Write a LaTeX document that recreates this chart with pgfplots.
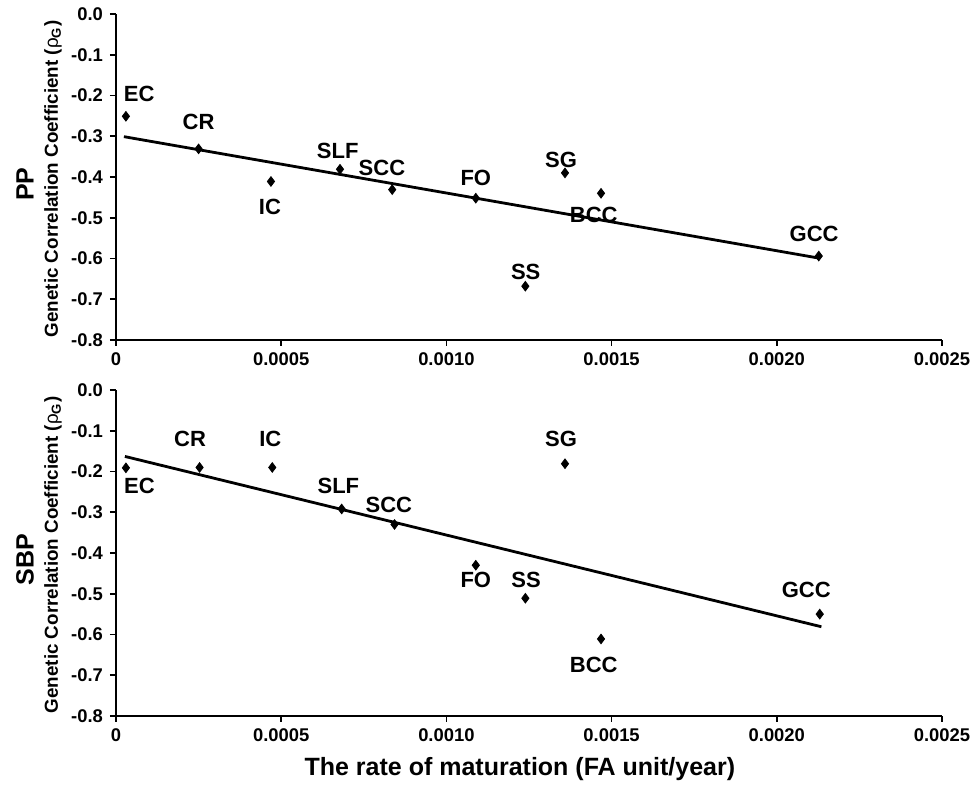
\documentclass[border=0pt]{standalone}
\usepackage{pgfplots}
\pgfplotsset{compat=1.18}
\usepackage{fontspec}
\setmainfont{Liberation Sans}

\pgfplotsset{
  matstyle/.style={
    scale only axis, width=413pt, height=163pt,
    xmin=0, xmax=0.0025, ymin=-0.8, ymax=0,
    axis lines=left, axis line style={-, line width=0.9pt},
    xtick={0,0.0005,0.001,0.0015,0.002,0.0025},
    xticklabels={0,0.0005,0.0010,0.0015,0.0020,0.0025},
    scaled x ticks=false,
    ytick={-0.8,-0.7,-0.6,-0.5,-0.4,-0.3,-0.2,-0.1,0},
    yticklabels={-0.8,-0.7,-0.6,-0.5,-0.4,-0.3,-0.2,-0.1,0.0},
    tick align=outside, major tick length=3pt,
    tick style={black, line width=0.8pt},
    ticklabel style={font=\fontsize{9.2}{10}\selectfont\bfseries},
    ylabel={Genetic Correlation Coefficient ({\mdseries ρ}\textsubscript{G})},
    ylabel style={at={(axis description cs:-0.0763,0.494)}, anchor=center,
      font=\fontsize{9.4}{10}\selectfont\bfseries},
    clip=false,
  },
  pts/.style={only marks, mark=diamond*, mark size=2.4pt, black},
  fit/.style={black, line width=1.4pt, no marks},
}
\tikzset{
  lab/.style={font=\fontsize{11}{12}\selectfont\bfseries, inner sep=0pt},
  big/.style={rotate=90, font=\fontsize{12.5}{13}\selectfont\bfseries},
}

\begin{document}
\begin{tikzpicture}
\path[use as bounding box] (-58pt,-225pt) rectangle (427.5pt,170pt);

% PP panel
\begin{axis}[matstyle, at={(0,0)}, anchor=south west]
\addplot[pts] coordinates {
  (0.000030,-0.251) (0.000250,-0.331) (0.000469,-0.411) (0.000678,-0.381)
  (0.000836,-0.431) (0.001089,-0.452) (0.001359,-0.390) (0.001468,-0.440)
  (0.001239,-0.668) (0.002127,-0.594)
};
\addplot[fit] coordinates {(0.000024,-0.301) (0.002127,-0.599)};
\node[lab] at (axis cs:0.000070,-0.196) {EC};
\node[lab] at (axis cs:0.000250,-0.264) {CR};
\node[lab] at (axis cs:0.000466,-0.474) {IC};
\node[lab] at (axis cs:0.000671,-0.335) {SLF};
\node[lab] at (axis cs:0.000805,-0.378) {SCC};
\node[lab] at (axis cs:0.001089,-0.403) {FO};
\node[lab] at (axis cs:0.001347,-0.357) {SG};
\node[lab] at (axis cs:0.001446,-0.493) {BCC};
\node[lab] at (axis cs:0.001240,-0.632) {SS};
\node[lab] at (axis cs:0.002113,-0.539) {GCC};
\node[big] at (axis description cs:-0.110,0.478) {PP};
\end{axis}

% SBP panel
\begin{axis}[matstyle, at={(0,-188pt)}, anchor=south west,
  xlabel={The rate of maturation (FA unit/year)},
  xlabel style={at={(axis description cs:0.489,0)}, yshift=-26.5pt, anchor=center,
    font=\fontsize{12.5}{13}\selectfont\bfseries}]
\addplot[pts] coordinates {
  (0.000030,-0.191) (0.000253,-0.190) (0.000473,-0.190) (0.000683,-0.292)
  (0.000843,-0.330) (0.001089,-0.430) (0.001239,-0.511) (0.001359,-0.181)
  (0.001468,-0.611) (0.002130,-0.550)
};
\addplot[fit] coordinates {(0.000027,-0.163) (0.002135,-0.581)};
\node[lab] at (axis cs:0.000071,-0.236) {EC};
\node[lab] at (axis cs:0.000224,-0.121) {CR};
\node[lab] at (axis cs:0.000467,-0.121) {IC};
\node[lab] at (axis cs:0.000673,-0.236) {SLF};
\node[lab] at (axis cs:0.000826,-0.282) {SCC};
\node[lab] at (axis cs:0.001089,-0.466) {FO};
\node[lab] at (axis cs:0.001241,-0.466) {SS};
\node[lab] at (axis cs:0.001347,-0.121) {SG};
\node[lab] at (axis cs:0.001446,-0.675) {BCC};
\node[lab] at (axis cs:0.002089,-0.490) {GCC};
\node[big] at (axis description cs:-0.110,0.479) {SBP};
\end{axis}
\end{tikzpicture}
\end{document}
